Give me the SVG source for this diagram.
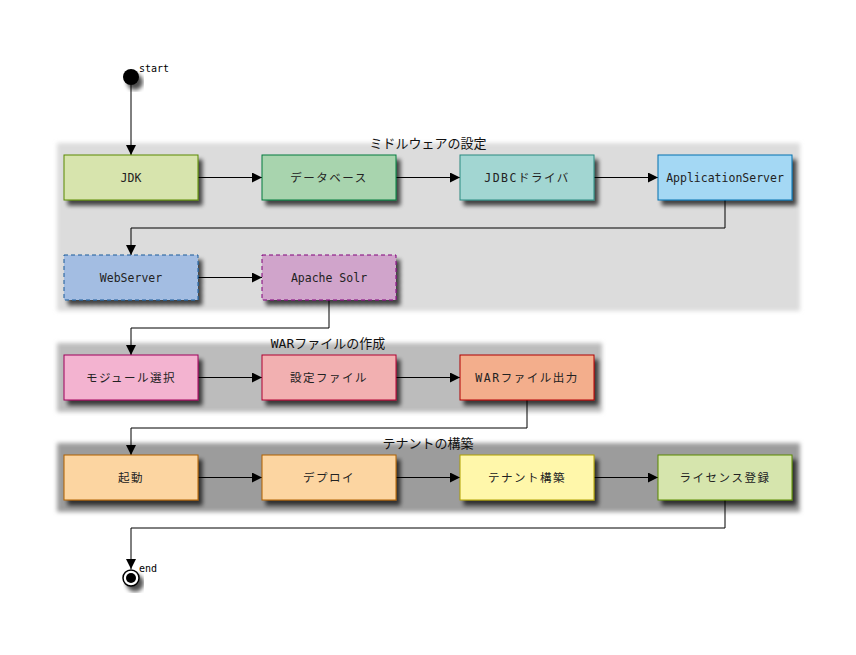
<svg xmlns="http://www.w3.org/2000/svg" width="856" height="655" viewBox="0 0 856 655">
<defs>
<filter id="sh" x="-20%" y="-20%" width="150%" height="160%">
<feGaussianBlur in="SourceAlpha" stdDeviation="2.2"/>
<feOffset dx="4" dy="5" result="b"/>
<feComponentTransfer><feFuncA type="linear" slope="0.7"/></feComponentTransfer>
<feMerge><feMergeNode/><feMergeNode in="SourceGraphic"/></feMerge>
</filter>
<filter id="gsh" x="-5%" y="-10%" width="110%" height="120%">
<feGaussianBlur stdDeviation="2"/>
</filter>
<marker id="ah" viewBox="0 0 10 10" refX="10" refY="5" markerWidth="10" markerHeight="10" markerUnits="userSpaceOnUse" orient="auto">
<path d="M0,0 L10,5 L0,10 z" fill="#000"/>
</marker>
</defs>
<style>
text{font-family:"DejaVu Sans Mono","Noto Sans CJK JP",monospace;font-size:11.5px;fill:#222}
.t{font-size:13px;fill:#111;text-anchor:middle}
.n{text-anchor:middle}
.j{letter-spacing:1.5px}
.c{fill:none;stroke:#000;stroke-width:1;marker-end:url(#ah)}
.b{stroke-width:1}
.d{stroke-dasharray:4,3}
.lbl{font-size:10px;fill:#000}
</style>
<rect width="856" height="655" fill="#fff"/>
<g id="group1">
<rect x="57" y="143" width="743" height="168" fill="#dcdcdc" filter="url(#gsh)"/>
<text class="t" x="428" y="148">ミドルウェアの設定</text>
</g>
<g id="group2">
<rect x="57" y="343" width="545" height="69" fill="#bcbcbc" filter="url(#gsh)"/>
<text class="t" x="328" y="348">WARファイルの作成</text>
</g>
<g id="group3">
<rect x="57" y="443" width="743" height="69" fill="#9c9c9c" filter="url(#gsh)"/>
<text class="t" x="428" y="448">テナントの構築</text>
</g>
<g id="connectors">
<path class="c" d="M131,85 V155"/>
<path class="c" d="M198,177.5 H262"/>
<path class="c" d="M396,177.5 H460"/>
<path class="c" d="M594,177.5 H658"/>
<path class="c" d="M725,200 V228 H131 V255"/>
<path class="c" d="M198,277.5 H262"/>
<path class="c" d="M329,300 V328 H131 V355"/>
<path class="c" d="M198,377.5 H262"/>
<path class="c" d="M396,377.5 H460"/>
<path class="c" d="M527,400 V428 H131 V455"/>
<path class="c" d="M198,477.5 H262"/>
<path class="c" d="M396,477.5 H460"/>
<path class="c" d="M594,477.5 H658"/>
<path class="c" d="M725,500 V528 H131 V569"/>
</g>
<g id="start">
<circle cx="131" cy="77" r="8" fill="#000" filter="url(#sh)"/>
<text class="lbl" x="139" y="72">start</text>
</g>
<g id="end">
<circle cx="131" cy="578" r="8" fill="#fff" stroke="#000" stroke-width="1.5" filter="url(#sh)"/>
<circle cx="131" cy="578" r="5" fill="#000"/>
<text class="lbl" x="139" y="572">end</text>
</g>
<g id="jdk"><rect class="b" x="64" y="155" width="134" height="45" fill="#d7e4ad" stroke="#5a8a00" filter="url(#sh)"/><text class="n" x="131" y="182">JDK</text></g>
<g id="database"><rect class="b" x="262" y="155" width="134" height="45" fill="#a8d4ae" stroke="#007a3d" filter="url(#sh)"/><text class="n j" x="329" y="182">データベース</text></g>
<g id="jdbc"><rect class="b" x="460" y="155" width="134" height="45" fill="#a2d6d2" stroke="#2a8a80" filter="url(#sh)"/><text class="n j" x="527" y="182">JDBCドライバ</text></g>
<g id="appserver"><rect class="b" x="658" y="155" width="134" height="45" fill="#a4d8f4" stroke="#0070b0" filter="url(#sh)"/><text class="n" x="725" y="182">ApplicationServer</text></g>
<g id="webserver"><rect class="b d" x="64" y="255" width="134" height="45" fill="#a3bde2" stroke="#1a5a9a" filter="url(#sh)"/><text class="n" x="131" y="282">WebServer</text></g>
<g id="solr"><rect class="b d" x="262" y="255" width="134" height="45" fill="#d0a4cb" stroke="#80007a" filter="url(#sh)"/><text class="n" x="329" y="282">Apache Solr</text></g>
<g id="module"><rect class="b" x="64" y="355" width="134" height="45" fill="#f3b3d0" stroke="#a0005a" filter="url(#sh)"/><text class="n j" x="131" y="382">モジュール選択</text></g>
<g id="config"><rect class="b" x="262" y="355" width="134" height="45" fill="#f2b0b1" stroke="#b00030" filter="url(#sh)"/><text class="n j" x="329" y="382">設定ファイル</text></g>
<g id="war"><rect class="b" x="460" y="355" width="134" height="45" fill="#f3ae8c" stroke="#b00000" filter="url(#sh)"/><text class="n j" x="527" y="382">WARファイル出力</text></g>
<g id="boot"><rect class="b" x="64" y="455" width="134" height="45" fill="#fcd5a1" stroke="#b06000" filter="url(#sh)"/><text class="n j" x="131" y="482">起動</text></g>
<g id="deploy"><rect class="b" x="262" y="455" width="134" height="45" fill="#fcd5a1" stroke="#b06000" filter="url(#sh)"/><text class="n j" x="329" y="482">デプロイ</text></g>
<g id="tenant"><rect class="b" x="460" y="455" width="134" height="45" fill="#fff7aa" stroke="#b0a000" filter="url(#sh)"/><text class="n j" x="527" y="482">テナント構築</text></g>
<g id="license"><rect class="b" x="658" y="455" width="134" height="45" fill="#d6e5ad" stroke="#5a8a00" filter="url(#sh)"/><text class="n j" x="725" y="482">ライセンス登録</text></g>
</svg>
